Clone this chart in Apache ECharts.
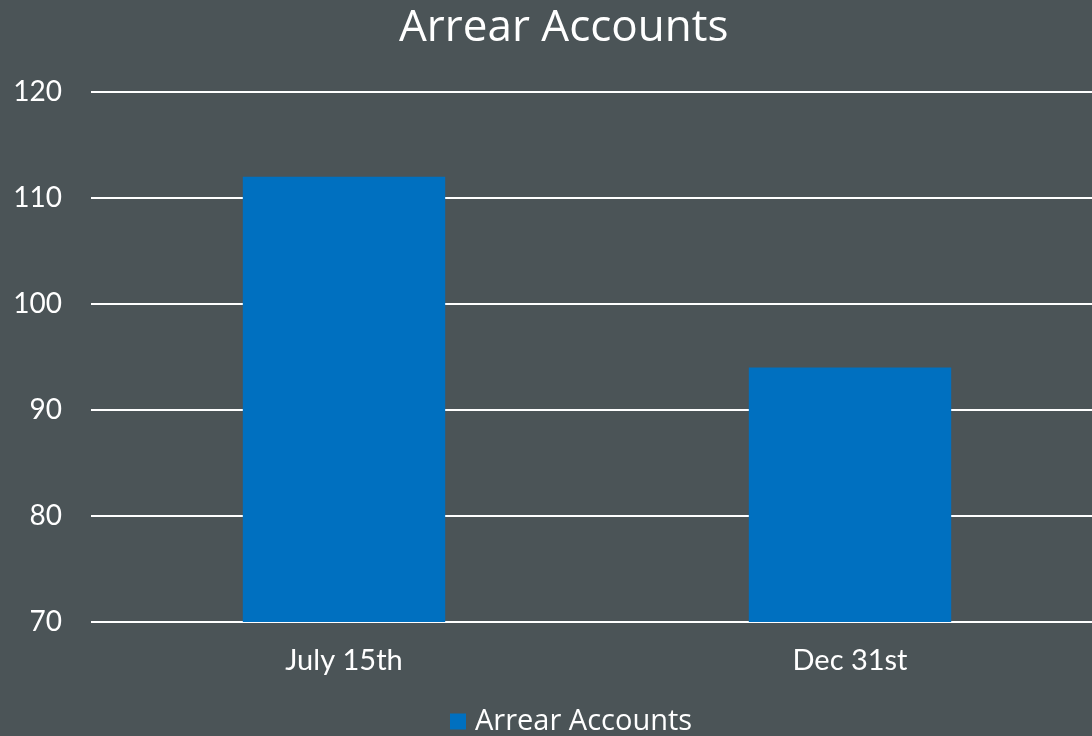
<!DOCTYPE html>
<html>
<head>
<meta charset="utf-8">
<script src="https://cdn.jsdelivr.net/npm/echarts@6/dist/echarts.min.js"></script>
<style>
html,body{margin:0;padding:0;background:#4b5457;overflow:hidden;width:1092px;height:736px;}
#chart{width:1103px;height:736px;}
</style>
</head>
<body>
<div id="chart"></div>
<script>
const categories = ["July 15th", "Dec 31st"];
const seriesName = "Arrear Accounts";
const values = [112, 94];
const titleText = "Arrear Accounts";

const FONT = "Lato";
const FONT2 = "Open Sans";
const chart = echarts.init(document.getElementById('chart'));
chart.setOption({
  backgroundColor: '#4b5457',
  animation: false,
  title: {
    text: titleText,
    left: 394,
    top: 1,
    textStyle: { color: '#ffffff', fontFamily: FONT2, fontWeight: 'normal', fontSize: 44 }
  },
  legend: {
    top: 707,
    left: 450,
    padding: 0,
    itemWidth: 16,
    itemHeight: 16,
    itemGap: 10,
    icon: 'rect',
    textStyle: { color: '#ffffff', fontFamily: FONT2, fontSize: 29, padding: [0,0,0,4] },
    data: [seriesName]
  },
  grid: { left: 91, right: 0, top: 92, bottom: 114, containLabel: false },
  xAxis: {
    type: 'category',
    data: categories,
    axisLine: { show: false },
    axisTick: { show: false },
    axisLabel: { color: '#ffffff', fontFamily: FONT, fontSize: 29, margin: 24 }
  },
  yAxis: {
    type: 'value',
    min: 70, max: 120, interval: 10,
    axisLine: { show: false },
    axisTick: { show: false },
    splitLine: { lineStyle: { color: '#ffffff', width: 2 } },
    axisLabel: { color: '#ffffff', fontFamily: FONT, fontSize: 28, margin: 29 }
  },
  series: [{
    name: seriesName,
    type: 'bar',
    data: values,
    barWidth: '40%',
    itemStyle: { color: '#0070c0' }
  }]
});
</script>
</body>
</html>
